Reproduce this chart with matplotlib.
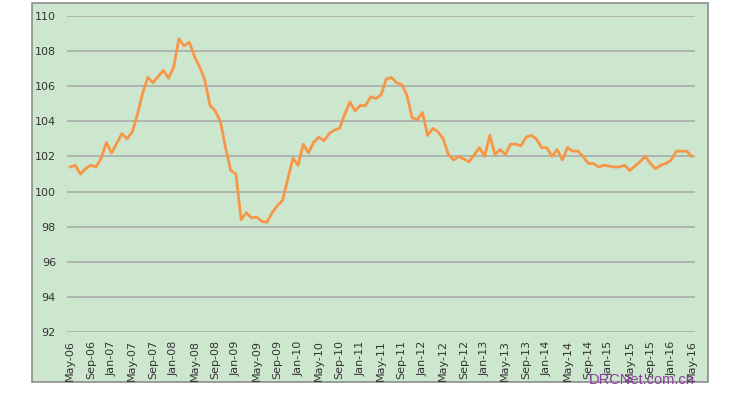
import numpy as np
import matplotlib
matplotlib.use("Agg")
import matplotlib.pyplot as plt
from matplotlib.patches import Rectangle

# Monthly index, May-06 .. May-16
values = [
    101.4, 101.5, 101.0, 101.3, 101.5, 101.4, 101.9, 102.8, 102.2, 102.75,
    103.3, 103.0, 103.4, 104.4, 105.6, 106.5, 106.2, 106.55, 106.9, 106.45,
    107.1, 108.7, 108.3, 108.5, 107.7, 107.1, 106.35, 104.9, 104.6, 104.0,
    102.5, 101.2, 101.0, 98.4, 98.8, 98.5, 98.55, 98.3, 98.25, 98.8,
    99.2, 99.5, 100.7, 101.9, 101.5, 102.7, 102.2, 102.8, 103.1, 102.9,
    103.3, 103.5, 103.6, 104.4, 105.1, 104.6, 104.9, 104.9, 105.4, 105.3,
    105.5, 106.4, 106.5, 106.2, 106.1, 105.5, 104.2, 104.1, 104.5, 103.2,
    103.6, 103.4, 103.0, 102.1, 101.8, 102.0, 101.85, 101.7, 102.1, 102.5,
    102.0, 103.2, 102.1, 102.4, 102.1, 102.7, 102.7, 102.6, 103.1, 103.2,
    103.0, 102.5, 102.5, 102.0, 102.4, 101.8, 102.5, 102.3, 102.3, 102.0,
    101.6, 101.6, 101.4, 101.5, 101.45, 101.4, 101.4, 101.5, 101.2, 101.45,
    101.7, 102.0, 101.6, 101.3, 101.5, 101.6, 101.8, 102.3, 102.3, 102.3,
    102.0,
]
months = ["Jan", "Feb", "Mar", "Apr", "May", "Jun",
          "Jul", "Aug", "Sep", "Oct", "Nov", "Dec"]
labels = []
for k in range(len(values)):
    m = 4 + k
    labels.append(f"{months[m % 12]}-{6 + m // 12:02d}")
y_ticks = list(range(92, 111, 2))

fig = plt.figure(figsize=(7.35, 3.94), dpi=100)
fig.patch.set_facecolor("white")

# green chart area, drawn behind everything
bg = Rectangle((32 / 735, 1 - 382 / 394), 676 / 735, 379 / 394,
               transform=fig.transFigure, facecolor="#CDE7CF",
               edgecolor="#8C8C8C", linewidth=1.2, zorder=-10)
fig.patches.append(bg)

ax = fig.add_axes([67 / 735, 1 - 332 / 394, 628 / 735, 316 / 394])
ax.set_facecolor("none")
x = np.arange(len(values))
ax.plot(x, values, color="#F79646", linewidth=2, zorder=3)

ax.set_ylim(92, 110)
ax.set_yticks(y_ticks)
ax.set_xlim(-0.6, len(values) - 0.4)
tick_idx = x[::4]
ax.set_xticks(tick_idx)
ax.set_xticklabels([labels[i] for i in tick_idx], rotation=90)
ax.grid(axis="y", color="#A6A6A6", linewidth=1.1)
ax.set_axisbelow(True)
for s in ax.spines.values():
    s.set_visible(False)
ax.tick_params(axis="both", length=0, labelsize=8, colors="#333333")
ax.tick_params(axis="y", pad=8)
ax.tick_params(axis="x", pad=6)

fig.text(695 / 735, 1 - 384 / 394, "DRCNet.com.cn", color="#8E3FA0",
         fontsize=10.5, family="Liberation Sans", ha="right", va="baseline")

fig.savefig("out.png", dpi=100)
